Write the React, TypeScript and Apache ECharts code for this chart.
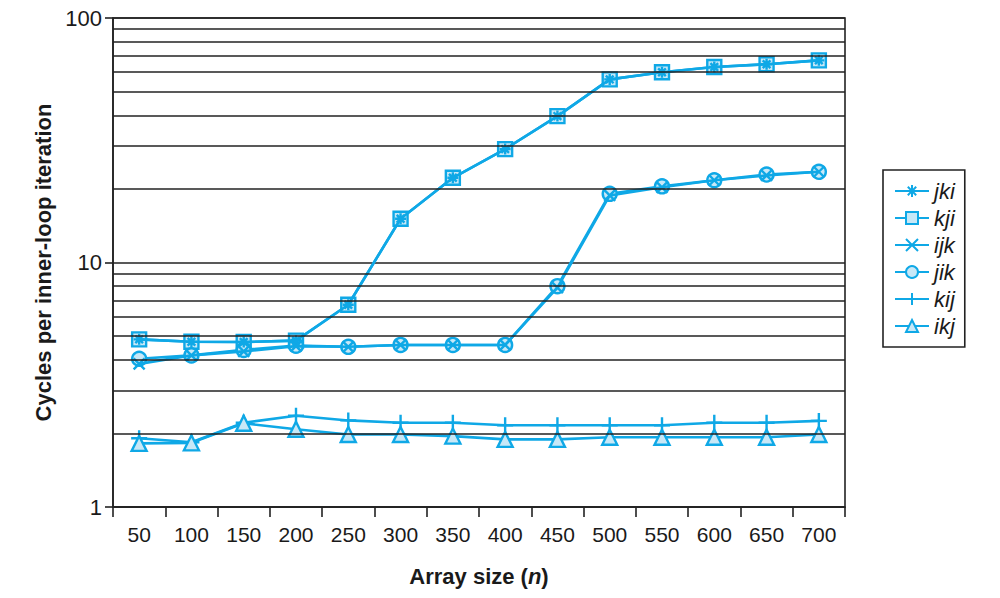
import React, { useEffect, useRef } from "react";
import * as echarts from "echarts";

const categories = ["50", "100", "150", "200", "250", "300", "350", "400", "450", "500", "550", "600", "650", "700"];
const jki = [4.85, 4.74, 4.73, 4.79, 6.72, 15.1, 22.2, 29.1, 39.7, 56.1, 60.0, 63.0, 64.7, 67.1];
const kji = [4.85, 4.74, 4.73, 4.79, 6.72, 15.1, 22.2, 29.1, 39.7, 56.1, 60.0, 63.0, 64.7, 67.1];
const ijk = [3.85, 4.17, 4.33, 4.55, 4.52, 4.6, 4.6, 4.6, 7.9, 18.8, 20.3, 21.7, 22.7, 23.5];
const jik = [4.04, 4.17, 4.39, 4.57, 4.52, 4.6, 4.6, 4.6, 8.0, 19.1, 20.5, 21.7, 22.9, 23.5];
const kij = [1.91, 1.84, 2.21, 2.36, 2.26, 2.21, 2.21, 2.16, 2.16, 2.16, 2.16, 2.21, 2.21, 2.25];
const ikj = [1.82, 1.83, 2.2, 2.08, 1.98, 1.98, 1.95, 1.89, 1.89, 1.93, 1.93, 1.93, 1.93, 1.98];
const minorGrid = [2, 3, 4, 5, 6, 7, 8, 9, 20, 30, 40, 50, 60, 70, 80, 90];

const CYAN = "#0fa8e6";
const FILL = "#c8e8f7";
const FONT = "Liberation Sans, Arial, sans-serif";
const TXT = "#1a1a1a";

const ASTERISK = "path://M5,0L5,10M0,5L10,5M1.5,1.5L8.5,8.5M8.5,1.5L1.5,8.5";
const CROSS = "path://M0,0L10,10M10,0L0,10";
const PLUS = "path://M5,0L5,10M0,5L10,5";

export default function App() {
  const ref = useRef<HTMLDivElement>(null);
  useEffect(() => {
    if (!ref.current) return;
    const chart = echarts.init(ref.current, null, { renderer: "svg" });
    const mk = (name: string, data: number[], symbol: string, size: number, z: number) => ({
      name,
      type: "line",
      data,
      symbol,
      symbolSize: size,
      showAllSymbol: true,
      z,
      lineStyle: { color: CYAN, width: 2.6 },
      itemStyle: { color: FILL, borderColor: CYAN, borderWidth: 2.4 },
      emphasis: { disabled: true },
    });
    chart.setOption({
      animation: false,
      textStyle: { fontFamily: FONT },
      grid: {
        left: 113,
        right: 155,
        top: 18,
        bottom: 91,
        show: true,
        borderColor: "#222",
        borderWidth: 1.6,
        backgroundColor: "transparent",
      },
      legend: {
        orient: "vertical",
        left: 883,
        top: 170,
        data: ["jki", "kji", "ijk", "jik", "kij", "ikj"],
        itemWidth: 34,
        itemHeight: 15,
        itemGap: 5,
        padding: [10, 10, 10, 11],
        borderColor: "#222",
        borderWidth: 1.6,
        textStyle: { fontSize: 22, fontStyle: "italic", color: TXT, fontFamily: FONT },
      },
      xAxis: {
        type: "category",
        data: categories,
        boundaryGap: true,
        name: "{b|Array size (}{i|n}{b|)}",
        nameLocation: "middle",
        nameGap: 58,
        nameTextStyle: {
          rich: {
            b: { fontSize: 22, fontWeight: "bold", color: TXT, fontFamily: FONT },
            i: { fontSize: 22, fontWeight: "bold", fontStyle: "italic", color: TXT, fontFamily: FONT },
          },
        },
        axisLine: { lineStyle: { color: "#222", width: 1.6 } },
        axisTick: { show: true, interval: 0, length: 10, lineStyle: { color: "#222", width: 1.6 } },
        axisLabel: { interval: 0, fontSize: 21, color: TXT, margin: 17 },
        splitLine: { show: false },
      },
      yAxis: {
        type: "log",
        logBase: 10,
        min: 1,
        max: 100,
        name: "Cycles per inner-loop iteration",
        nameLocation: "middle",
        nameGap: 58,
        nameRotate: 90,
        nameTextStyle: { fontSize: 22, fontWeight: "bold", color: TXT },
        axisLine: { show: true, lineStyle: { color: "#222", width: 1.6 } },
        axisTick: { show: true, length: 8, lineStyle: { color: "#222", width: 1.6 } },
        axisLabel: { fontSize: 22, color: TXT, margin: 11 },
        splitLine: { show: true, lineStyle: { color: "#222", width: 1.6 } },
      },
      series: [
        {
          name: "grid",
          type: "line",
          data: [],
          z: 1,
          silent: true,
          markLine: {
            silent: true,
            symbol: "none",
            label: { show: false },
            lineStyle: { color: "#222", width: 1.6, type: "solid" },
            emphasis: { disabled: true },
            data: minorGrid.map((v) => ({ yAxis: v })),
          },
        },
        mk("kji", kji, "rect", 14, 3),
        mk("jki", jki, ASTERISK, 11, 4),
        mk("jik", jik, "circle", 14, 3),
        mk("ijk", ijk, CROSS, 11, 4),
        mk("kij", kij, PLUS, 16, 3),
        mk("ikj", ikj, "triangle", 15, 4),
      ],
    });
    return () => chart.dispose();
  }, []);
  return <div ref={ref} style={{ width: 1000, height: 598, position: "absolute", left: 0, top: 0 }} />;
}
